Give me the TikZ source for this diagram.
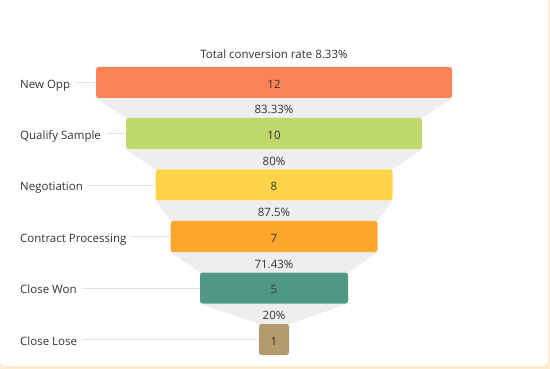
\documentclass[tikz,border=0pt]{standalone}
\usepackage{fontspec}
\setmainfont{Open Sans}
\usetikzlibrary{backgrounds}
\definecolor{pagepeach}{HTML}{FFEBCD}
\definecolor{txtgray}{HTML}{333333}
\definecolor{funnelgray}{HTML}{EEEEEE}
\definecolor{guidegray}{HTML}{E3E3E3}
\definecolor{cOpp}{HTML}{FA8455}
\definecolor{cQualify}{HTML}{BFD86D}
\definecolor{cNego}{HTML}{FFD448}
\definecolor{cContract}{HTML}{FDA82C}
\definecolor{cWon}{HTML}{4E9884}
\definecolor{cLose}{HTML}{B5996E}
\tikzset{
  stagebar/.style={rectangle, rounded corners=2.5pt, inner sep=0pt,
    minimum height=31pt, text=txtgray, text height=12pt, text depth=0pt,
    font=\fontsize{11.5}{13}\selectfont},
  stagelabel/.style={anchor=west, inner sep=0pt, text=txtgray,
    text height=12pt, text depth=0pt, font=\fontsize{11.5}{13}\selectfont},
  ratelabel/.style={inner sep=0pt, text=txtgray, text height=12pt, text depth=0pt,
    font=\fontsize{11.5}{13}\selectfont},
  guide/.style={draw=guidegray, line width=0.8pt}
}
\begin{document}
\begin{tikzpicture}[x=1pt,y=-1pt]
  \useasboundingbox (0,0) rectangle (550,369);
  \clip (0,0) rectangle (550,369);

  % stages
  \node[stagebar, fill=cOpp, minimum width=356pt] (bOpp) at (274,82.5) {12};
  \node[stagebar, fill=cQualify, minimum width=296pt] (bQualify) at (274,133.5) {10};
  \node[stagebar, fill=cNego, minimum width=237pt] (bNego) at (274,185) {8};
  \node[stagebar, fill=cContract, minimum width=207pt] (bContract) at (274,236.5) {7};
  \node[stagebar, fill=cWon, minimum width=148pt] (bWon) at (274,288) {5};
  \node[stagebar, fill=cLose, minimum width=30pt] (bLose) at (274,339.5) {1};

  \node[ratelabel] (total) at (274,53) {Total conversion rate 8.33\%};

  % panel and funnel between stages
  \begin{pgfonlayer}{background}
    \fill[pagepeach] (0,0) rectangle (550,369);
    \fill[white, rounded corners=7pt] (-1,-20) rectangle (548,366);
    \fill[funnelgray] (bOpp.south west) -- (bOpp.south east) -- (bQualify.north east) -- (bQualify.north west) -- cycle;
    \fill[funnelgray] (bQualify.south west) -- (bQualify.south east) -- (bNego.north east) -- (bNego.north west) -- cycle;
    \fill[funnelgray] (bNego.south west) -- (bNego.south east) -- (bContract.north east) -- (bContract.north west) -- cycle;
    \fill[funnelgray] (bContract.south west) -- (bContract.south east) -- (bWon.north east) -- (bWon.north west) -- cycle;
    \fill[funnelgray] (bWon.south west) -- (bWon.south east) -- (bLose.north east) -- (bLose.north west) -- cycle;
  \end{pgfonlayer}

  \path (bOpp.south) -- (bQualify.north) node[ratelabel, midway] (rQualify) {83.33\%};
  \path (bQualify.south) -- (bNego.north) node[ratelabel, midway] (rNego) {80\%};
  \path (bNego.south) -- (bContract.north) node[ratelabel, midway] (rContract) {87.5\%};
  \path (bContract.south) -- (bWon.north) node[ratelabel, midway] (rWon) {71.43\%};
  \path (bWon.south) -- (bLose.north) node[ratelabel, midway] (rLose) {20\%};

  % names on the left
  \node[stagelabel] (lOpp) at (20,82.5) {New Opp};
  \node[stagelabel] (lQualify) at (20,133.5) {Qualify Sample};
  \node[stagelabel] (lNego) at (20,185) {Negotiation};
  \node[stagelabel] (lContract) at (20,236.5) {Contract Processing};
  \node[stagelabel] (lWon) at (20,288) {Close Won};
  \node[stagelabel] (lLose) at (20,339.5) {Close Lose};

  \draw[guide] ([xshift=5pt]lOpp.east) -- (bOpp.west);
  \draw[guide] ([xshift=5pt]lQualify.east) -- (bQualify.west);
  \draw[guide] ([xshift=5pt]lNego.east) -- (bNego.west);
  \draw[guide] ([xshift=5pt]lContract.east) -- (bContract.west);
  \draw[guide] ([xshift=5pt]lWon.east) -- (bWon.west);
  \draw[guide] ([xshift=5pt]lLose.east) -- (bLose.west);
\end{tikzpicture}
\end{document}
